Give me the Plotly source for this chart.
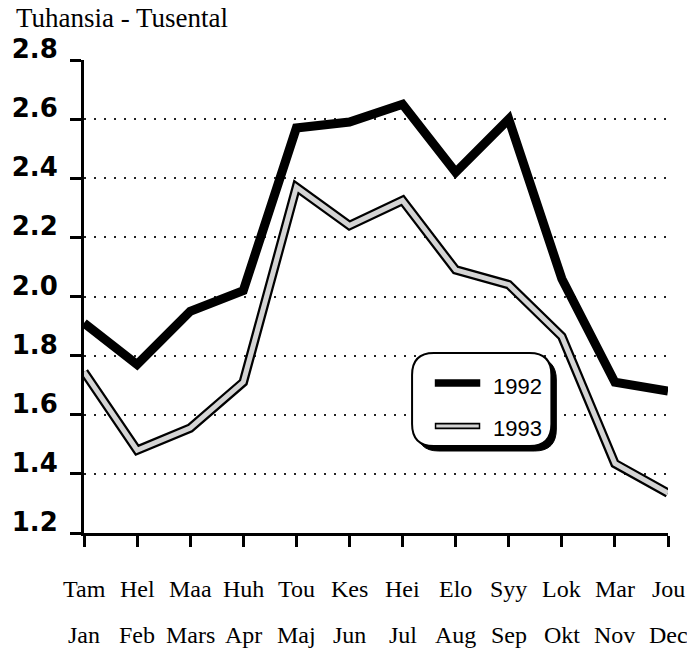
import plotly.graph_objects as go

# ---------------- data ----------------
months_fi = ["Tam", "Hel", "Maa", "Huh", "Tou", "Kes", "Hei", "Elo", "Syy", "Lok", "Mar", "Jou"]
months_sv = ["Jan", "Feb", "Mars", "Apr", "Maj", "Jun", "Jul", "Aug", "Sep", "Okt", "Nov", "Dec"]
values_1992 = [1.91, 1.77, 1.95, 2.02, 2.57, 2.59, 2.65, 2.42, 2.60, 2.06, 1.71, 1.68]
values_1993 = [1.745, 1.48, 1.555, 1.71, 2.37, 2.24, 2.325, 2.09, 2.04, 1.865, 1.435, 1.335]
y_ticks = [1.2, 1.4, 1.6, 1.8, 2.0, 2.2, 2.4, 2.6, 2.8]
series_names = ["1992", "1993"]
title_text = "Tuhansia - Tusental"

# ---------------- geometry ----------------
W, H = 687, 654
ML, MR, MT, MB = 77, 19, 60, 121
PW, PH = W - ML - MR, H - MT - MB

def px(x):
    return (x - ML) / PW

def py(y):
    return (H - MB - y) / PH

xs = list(range(len(months_fi)))

fig = go.Figure()
# 1992: thick black line
fig.add_trace(go.Scatter(x=xs, y=values_1992, mode="lines", name=series_names[0],
                         line=dict(color="black", width=9), showlegend=False))
# 1993: outlined light line (black outline + light grey core)
fig.add_trace(go.Scatter(x=xs, y=values_1993, mode="lines", name=series_names[1],
                         line=dict(color="black", width=9.5), showlegend=False))
fig.add_trace(go.Scatter(x=xs, y=values_1993, mode="lines", name=series_names[1],
                         line=dict(color="#d4d4d4", width=5), showlegend=False,
                         hoverinfo="skip"))

serif = "Liberation Serif, Times New Roman, serif"
sans = "Liberation Sans, Arial, sans-serif"

annotations = []
# title
annotations.append(dict(text=title_text, x=px(6), y=py(18), xref="paper", yref="paper",
                        xanchor="left", yanchor="middle", showarrow=False,
                        font=dict(family=serif, size=27, color="black")))
# month label rows
for i in xs:
    annotations.append(dict(text=months_fi[i], x=i, y=py(589), xref="x", yref="paper",
                            xanchor="center", yanchor="middle", showarrow=False,
                            font=dict(family=serif, size=24, color="black")))
    annotations.append(dict(text=months_sv[i], x=i, y=py(635), xref="x", yref="paper",
                            xanchor="center", yanchor="middle", showarrow=False,
                            font=dict(family=serif, size=24, color="black")))

# ---------------- legend box ----------------
def rrect(x0, y0, x1, y1, r):
    # pixel coords -> rounded rect path in paper coords
    def P(x, y):
        return f"{px(x):.5f},{py(y):.5f}"
    return (f"M {P(x0 + r, y0)} L {P(x1 - r, y0)} Q {P(x1, y0)} {P(x1, y0 + r)} "
            f"L {P(x1, y1 - r)} Q {P(x1, y1)} {P(x1 - r, y1)} "
            f"L {P(x0 + r, y1)} Q {P(x0, y1)} {P(x0, y1 - r)} "
            f"L {P(x0, y0 + r)} Q {P(x0, y0)} {P(x0 + r, y0)} Z")

bx0, by0, bx1, by1 = 409, 353, 550, 446
shapes = [
    dict(type="path", path=rrect(bx0 + 5, by0 + 5, bx1 + 5, by1 + 5, 22), xref="paper", yref="paper",
         fillcolor="black", line=dict(color="black", width=1), layer="above"),
    dict(type="path", path=rrect(bx0, by0, bx1, by1, 22), xref="paper", yref="paper",
         fillcolor="white", line=dict(color="black", width=2), layer="above"),
    dict(type="line", x0=px(432), x1=px(478), y0=py(383), y1=py(383), xref="paper", yref="paper",
         line=dict(color="black", width=7.5), layer="above"),
    dict(type="line", x0=px(432), x1=px(478), y0=py(426), y1=py(426), xref="paper", yref="paper",
         line=dict(color="black", width=6.5), layer="above"),
    dict(type="line", x0=px(433.5), x1=px(476.5), y0=py(426), y1=py(426), xref="paper", yref="paper",
         line=dict(color="#d4d4d4", width=3), layer="above"),
]
annotations.append(dict(text=series_names[0], x=px(489), y=py(386), xref="paper", yref="paper",
                        xanchor="left", yanchor="middle", showarrow=False,
                        font=dict(family=sans, size=22, color="black")))
annotations.append(dict(text=series_names[1], x=px(489), y=py(428), xref="paper", yref="paper",
                        xanchor="left", yanchor="middle", showarrow=False,
                        font=dict(family=sans, size=22, color="black")))

fig.update_layout(
    width=W, height=H,
    margin=dict(l=ML, r=MR, t=MT, b=MB, pad=0),
    paper_bgcolor="white", plot_bgcolor="white",
    showlegend=False,
    annotations=annotations,
    shapes=shapes,
    xaxis=dict(range=[0, 11], tickvals=xs, showticklabels=False, ticks="outside",
               ticklen=11, tickwidth=2.5, tickcolor="black", showline=True, linewidth=3,
               linecolor="black", showgrid=False, zeroline=False, fixedrange=True),
    yaxis=dict(range=[1.2, 2.8], tickvals=y_ticks, ticktext=[f"{v:.1f}" for v in y_ticks],
               ticks="outside", ticklen=11, tickwidth=3, tickcolor="black", showline=True,
               linewidth=3, linecolor="black", showgrid=True, gridcolor="#222222",
               gridwidth=2, griddash="2px,8px", zeroline=False,
               tickfont=dict(family="DejaVu Sans", size=26, color="black", weight="bold"),
               ticklabelstandoff=7, ticklabelshift=-11, fixedrange=True),
)

fig.write_html("out.html", config={"displayModeBar": False},
               post_script="document.body.style.margin='0';document.body.style.padding='0';")
